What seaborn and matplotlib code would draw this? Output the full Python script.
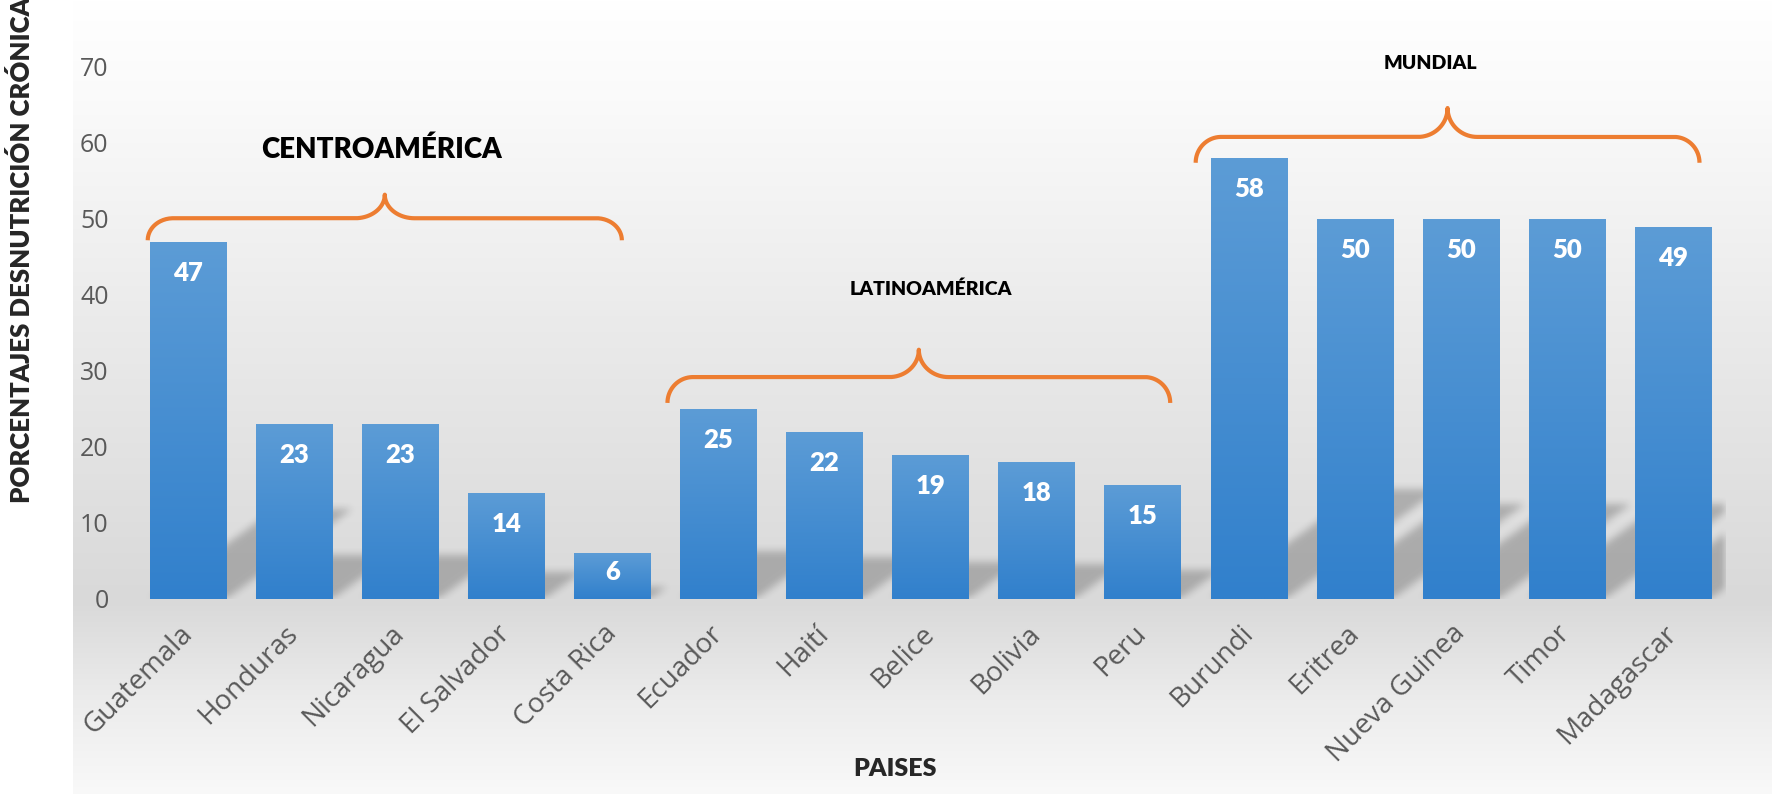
import numpy as np
import matplotlib
matplotlib.use("Agg")
import matplotlib.pyplot as plt
import seaborn as sns

# data
paises = ["Guatemala", "Honduras", "Nicaragua", "El Salvador", "Costa Rica",
          "Ecuador", "Haití", "Belice", "Bolivia", "Peru",
          "Burundi", "Eritrea", "Nueva Guinea", "Timor", "Madagascar"]
porcentajes = [47, 23, 23, 14, 6, 25, 22, 19, 18, 15, 58, 50, 50, 50, 49]
regiones = ["CENTROAMÉRICA"] * 5 + ["LATINOAMÉRICA"] * 5 + ["MUNDIAL"] * 5
y_ticks = [0, 10, 20, 30, 40, 50, 60, 70]

# brace / group label layout (data units, offsets relative to the group max)
brace_layout = {
    "CENTROAMÉRICA": dict(x0=-0.38, x1=4.09, end=0.2, mid=3.1, peak=6.2, lx=1.82, ldy=12.1, size=20),
    "LATINOAMÉRICA": dict(x0=4.52, x1=9.26, end=0.8, mid=4.2, peak=7.8, lx=7.0, ldy=15.7, size=14),
    "MUNDIAL": dict(x0=9.50, x1=14.25, end=-0.6, mid=2.8, peak=6.6, lx=11.71, ldy=12.5, size=14),
}

sns.set_style("white")
plt.rcParams["font.family"] = ["Open Sans", "DejaVu Sans"]

W_PX, H_PX = 1772, 794
fig = plt.figure(figsize=(W_PX / 100, H_PX / 100), dpi=100)

# chart-area gradient background
bg = fig.add_axes([73 / W_PX, 0, 1 - 73 / W_PX, 1], zorder=-1)
rows = np.interp(np.arange(H_PX), [0, 100, 300, 600, 700, 794],
                 [255, 250, 236, 217, 236, 249]) / 255
bg.imshow(rows[:, None, None] * np.ones((1, 1, 3)), aspect="auto",
          extent=[0, 1, 0, 1], origin="upper")
bg.axis("off")

ax_l, ax_r, ax_b, ax_t = 135, 1726, 599, 67
ax = fig.add_axes([ax_l / W_PX, (H_PX - ax_b) / H_PX,
                   (ax_r - ax_l) / W_PX, (ax_b - ax_t) / H_PX], zorder=1)
ax.set_facecolor("none")

sns.barplot(x=paises, y=porcentajes, ax=ax, color="#5B9BD5", saturation=1,
            width=0.72, edgecolor="none")

xlim, ylim = (-0.5, len(paises) - 0.5), (0, 70)
ax.set_xlim(*xlim)
ax.set_ylim(*ylim)

# vertical gradient inside each bar
top_c = np.array([92, 156, 214]) / 255
bot_c = np.array([49, 128, 204]) / 255
fr = np.linspace(0, 1, 128)[:, None]
bar_grad = (top_c * (1 - fr) + bot_c * fr)[:, None, :]
for p in ax.patches:
    x0, w, h = p.get_x(), p.get_width(), p.get_height()
    im = ax.imshow(bar_grad, extent=[x0, x0 + w, 0, h], aspect="auto",
                   zorder=2, interpolation="bilinear")
    im.set_clip_path(p)

# soft perspective shadow behind the bars
ax_w, ax_h = ax_r - ax_l, ax_b - ax_t
xs = np.linspace(xlim[0], xlim[1], ax_w)
ys = np.linspace(ylim[0], ylim[1], ax_h)
X, Y = np.meshgrid(xs, ys)
mask = np.zeros_like(X)
px_per_x = ax_w / (xlim[1] - xlim[0])
px_per_y = ax_h / (ylim[1] - ylim[0])
for p in ax.patches:
    L, R, v = p.get_x(), p.get_x() + p.get_width(), p.get_height()
    h = 0.25 * v
    s = 1.4 * h * px_per_y / px_per_x
    t = Y / h
    inside = (Y <= h) & (X >= L + s * t) & (X <= R + s * t)
    mask = np.maximum(mask, inside.astype(float))
k = np.ones(9) / 9
for _ in range(2):
    mask = np.apply_along_axis(lambda r: np.convolve(r, k, mode="same"), 1, mask)
    mask = np.apply_along_axis(lambda c: np.convolve(c, k, mode="same"), 0, mask)
shadow = np.zeros((ax_h, ax_w, 4))
shadow[..., 3] = mask * 0.22
ax.imshow(shadow, extent=[*xlim, *ylim], origin="lower", aspect="auto", zorder=0.5)
ax.set_xlim(*xlim)
ax.set_ylim(*ylim)

# value labels inside the bar tops
for i, v in enumerate(porcentajes):
    off_px = min(31, v * px_per_y / 2 - 4.5)
    ax.annotate(str(v), xy=(i, v), xytext=(0, -off_px * 0.72), textcoords="offset points",
                ha="center", va="center", color="white", fontsize=18.5,
                fontweight="heavy", family=["Lato", "DejaVu Sans"], zorder=3)

# group braces and names
for reg, lay in brace_layout.items():
    gmax = max(v for v, r in zip(porcentajes, regiones) if r == reg)
    y0, y1, y2 = gmax + lay["end"], gmax + lay["mid"], gmax + lay["peak"]
    x0, x1 = lay["x0"], lay["x1"]
    xm = (x0 + x1) / 2
    t = np.linspace(0, np.pi / 2, 40)
    rx1, rx2 = 0.24, 0.28
    c1x = x0 + rx1 - rx1 * np.cos(t)
    c1y = y0 + (y1 - y0) * np.sin(t)
    c2x = xm - rx2 + rx2 * np.sin(t)
    c2y = y2 - (y2 - y1) * np.cos(t)
    lx_ = np.concatenate([c1x, c2x])
    ly_ = np.concatenate([c1y, c2y])
    bx = np.concatenate([lx_, (2 * xm - lx_)[::-1]])
    by = np.concatenate([ly_, ly_[::-1]])
    ax.plot(bx, by, color="#ED7D31", lw=3, clip_on=False, zorder=4,
            solid_capstyle="butt")
    ax.text(lay["lx"], gmax + lay["ldy"], reg, ha="center", va="center",
            fontsize=lay["size"], fontweight="heavy", color="black",
            family=["Lato", "DejaVu Sans"], clip_on=False)

ax.set_yticks(y_ticks)
ax.tick_params(axis="y", length=0, pad=19, labelsize=18, labelcolor="#595959")
ax.tick_params(axis="x", length=0, pad=22, labelsize=20, labelcolor="#595959")
plt.setp(ax.get_xticklabels(), rotation=45, ha="right", va="center",
         rotation_mode="anchor")
for sp in ax.spines.values():
    sp.set_visible(False)
ax.grid(False)
ax.set_xlabel("")
ax.set_ylabel("")

fig.text(895 / W_PX, (H_PX - 769) / H_PX, "PAISES", ha="center", va="center",
         fontsize=18, fontweight="heavy", family=["Lato", "DejaVu Sans"])
fig.text(22 / W_PX, (H_PX - 250) / H_PX, "PORCENTAJES DESNUTRICIÓN CRÓNICA",
         rotation=90, ha="center", va="center", fontsize=18.5, fontweight="heavy",
         family=["Lato", "DejaVu Sans"])

fig.savefig("out.png", dpi=100)
